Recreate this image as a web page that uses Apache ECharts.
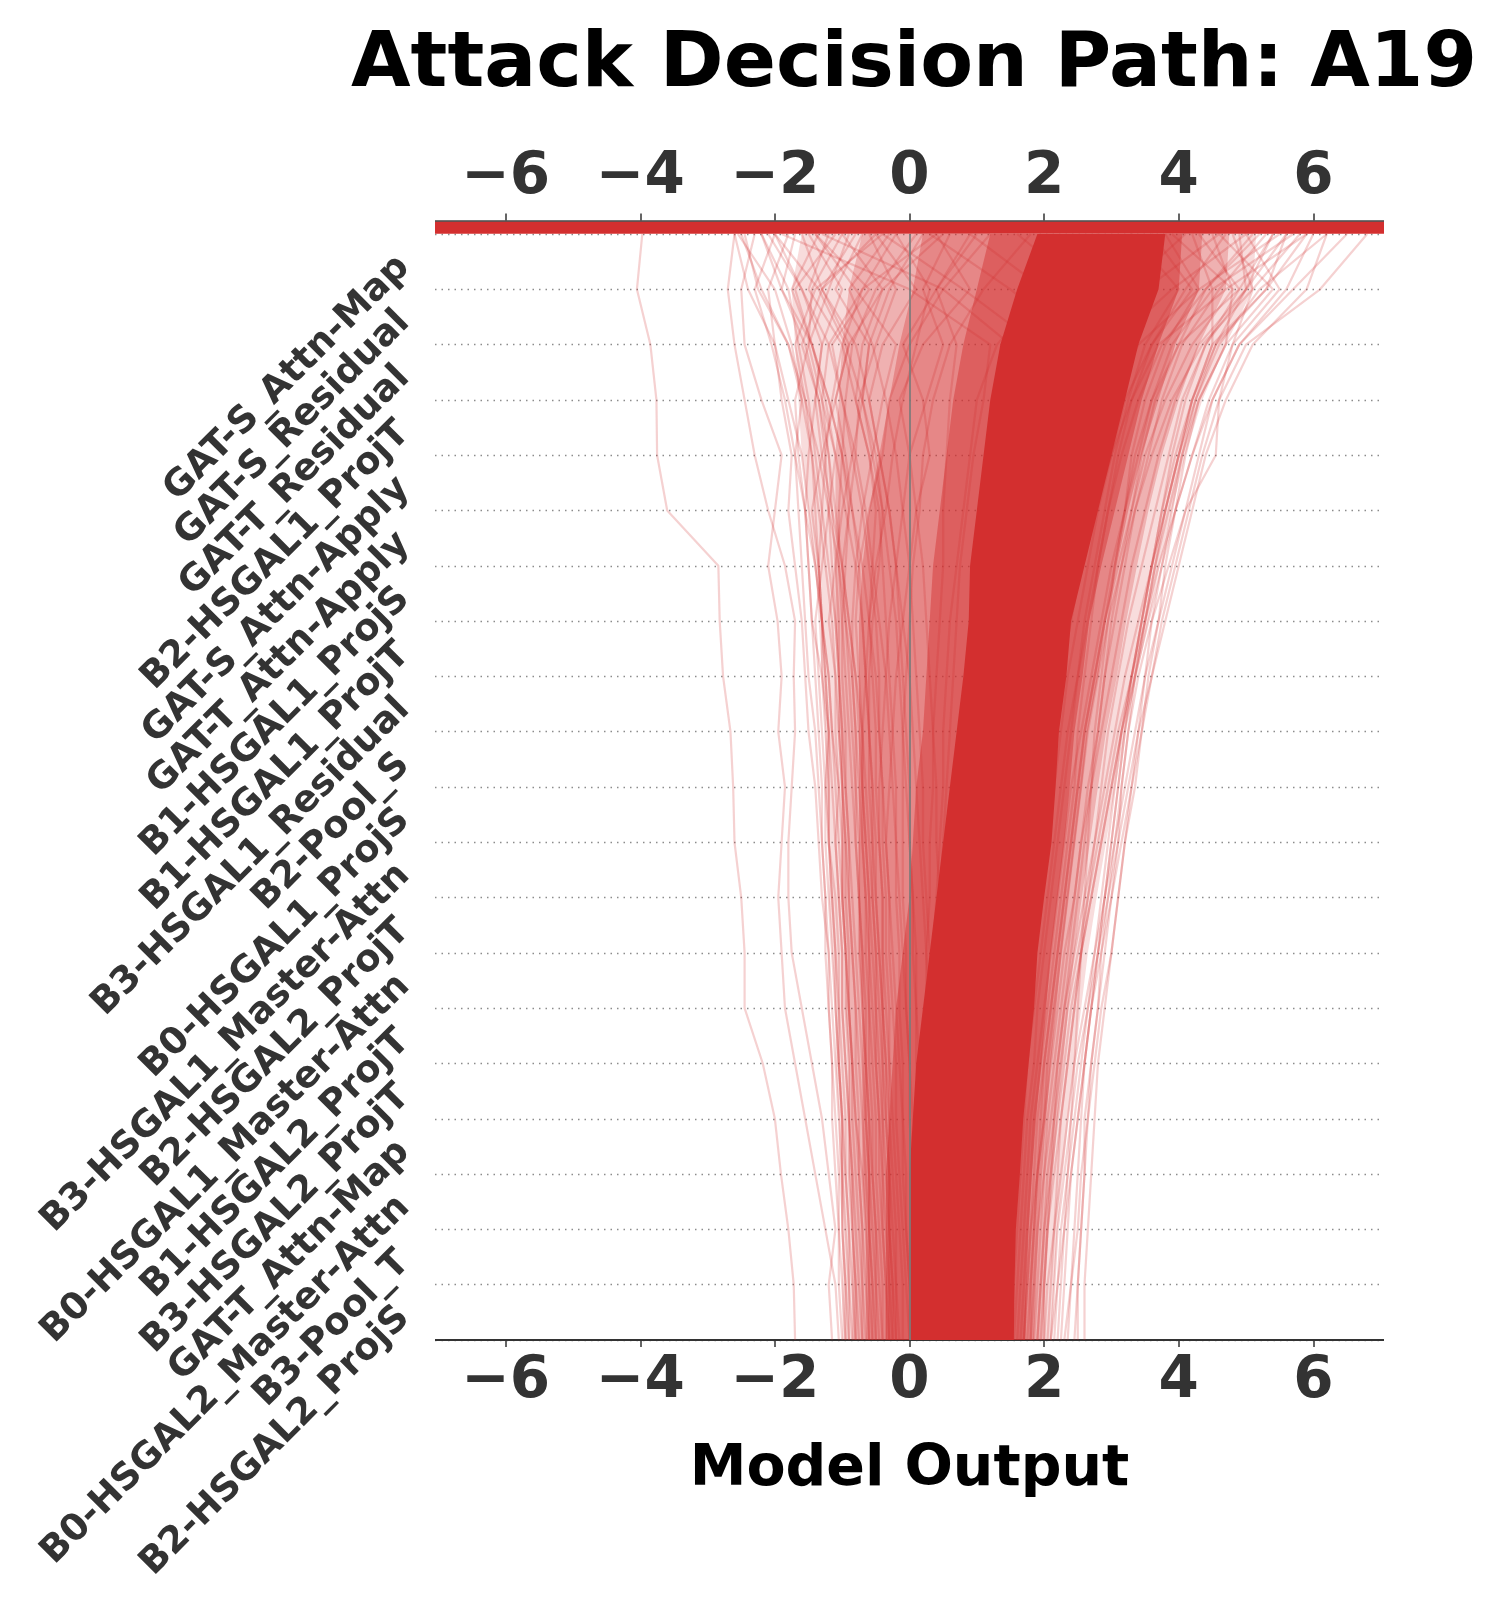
<!DOCTYPE html>
<html>
<head>
<meta charset="utf-8">
<script src="https://cdn.jsdelivr.net/npm/echarts@6/dist/echarts.min.js"></script>
<style>
html,body{margin:0;padding:0;background:#fff;}
#chart{width:1486px;height:1609px;}
</style>
</head>
<body>
<div id="chart"></div>
<script>
// ---------------- data ----------------
const chartTitle = 'Attack Decision Path: A19';
const xAxisName = 'Model Output';
const xTicks = [-6, -4, -2, 0, 2, 4, 6];
const xRange = [-7.05, 7.05];

// features, top (most important) to bottom
const features = [
  'GAT-S_Attn-Map', 'GAT-S_Residual', 'GAT-T_Residual', 'B2-HSGAL1_ProjT',
  'GAT-S_Attn-Apply', 'GAT-T_Attn-Apply', 'B1-HSGAL1_ProjS', 'B1-HSGAL1_ProjT',
  'B3-HSGAL1_Residual', 'B2-Pool_S', 'B0-HSGAL1_ProjS', 'B3-HSGAL1_Master-Attn',
  'B2-HSGAL2_ProjT', 'B0-HSGAL1_Master-Attn', 'B1-HSGAL2_ProjT', 'B3-HSGAL2_ProjT',
  'GAT-T_Attn-Map', 'B0-HSGAL2_Master-Attn', 'B3-Pool_T', 'B2-HSGAL2_ProjS'
];

// density contours of the path bundle (outer -> inner), index k = 0 (bottom) ... 20 (top)
const band1Lo = [-1.0,-1.0,-1.0,-1.05,-1.05,-1.1,-1.1,-1.15,-1.2,-1.2,-1.25,-1.25,-1.3,-1.35,-1.4,-1.5,-1.6,-1.65,-1.7,-1.75,-1.6];
const band1Hi = [2.1,2.15,2.2,2.28,2.36,2.45,2.55,2.65,2.78,2.92,3.06,3.2,3.38,3.55,3.72,3.9,4.1,4.35,4.7,5.1,5.15];
const band2Lo = [-0.85,-0.85,-0.85,-0.9,-0.9,-0.9,-0.95,-0.95,-1.0,-1.0,-1.0,-1.05,-1.05,-1.1,-1.1,-1.1,-1.1,-1.05,-1.0,-0.9,-0.7];
const band2Hi = [1.98,2.02,2.07,2.13,2.2,2.28,2.36,2.45,2.56,2.68,2.8,2.92,3.08,3.22,3.38,3.55,3.75,4.0,4.3,4.7,4.75];
const band3Lo = [-0.65,-0.65,-0.65,-0.7,-0.7,-0.7,-0.7,-0.75,-0.75,-0.75,-0.75,-0.75,-0.75,-0.75,-0.7,-0.6,-0.45,-0.3,-0.15,0.05,0.2];
const band3Hi = [1.85,1.88,1.92,1.97,2.03,2.1,2.18,2.26,2.36,2.46,2.56,2.65,2.8,2.92,3.08,3.25,3.45,3.7,3.95,4.3,4.35];
const band4Lo = [-0.35,-0.35,-0.35,-0.35,-0.3,-0.25,-0.2,-0.1,0.0,0.05,0.1,0.2,0.25,0.3,0.35,0.45,0.55,0.65,0.8,1.0,1.2];
const band4Hi = [1.72,1.74,1.77,1.82,1.88,1.96,2.03,2.1,2.2,2.3,2.38,2.45,2.57,2.67,2.85,3.05,3.25,3.45,3.7,4.0,4.05];
const coreLo  = [0.0,0.0,0.0,0.0,0.05,0.1,0.2,0.3,0.4,0.5,0.6,0.7,0.8,0.88,0.9,1.0,1.1,1.2,1.35,1.6,1.9];
const coreHi  = [1.55,1.56,1.58,1.64,1.69,1.77,1.85,1.9,2.0,2.11,2.17,2.22,2.33,2.4,2.6,2.8,3.0,3.2,3.4,3.7,3.8];

// individual visible decision paths, k = 0 (bottom) ... 20 (top)
const decisionPaths = [
  [-1.70,-1.72,-1.80,-1.91,-2.00,-2.18,-2.45,-2.45,-2.50,-2.60,-2.62,-2.66,-2.77,-2.82,-2.84,-3.60,-3.75,-3.76,-3.85,-4.05,-3.97],
  [-1.15,-1.2,-1.1,-1.2,-1.3,-1.45,-1.6,-1.75,-1.8,-1.8,-1.75,-1.7,-1.72,-1.7,-1.85,-2.1,-2.3,-2.45,-2.6,-2.7,-2.6],
  [-1.05,-1.1,-1.25,-1.4,-1.55,-1.7,-1.85,-1.9,-1.95,-1.9,-1.85,-1.95,-1.9,-1.96,-2.1,-2.0,-1.9,-2.2,-2.45,-2.5,-2.3],
  [-0.9,-0.95,-1.0,-1.0,-1.05,-1.1,-1.15,-1.2,-1.3,-1.35,-1.4,-1.5,-1.55,-1.6,-1.7,-1.8,-1.75,-1.9,-2.0,-2.1,-1.8],
  [-0.8,-0.85,-0.9,-0.95,-0.95,-1.0,-1.05,-1.05,-1.1,-1.2,-1.25,-1.2,-1.3,-1.45,-1.5,-1.55,-1.65,-1.7,-1.5,-1.2,-0.9],
  [-0.7,-0.75,-0.8,-0.85,-0.9,-0.95,-1.0,-1.0,-1.05,-1.1,-1.05,-1.15,-1.2,-1.3,-1.35,-1.45,-1.3,-1.1,-0.9,-1.3,-1.6],
  [-0.6,-0.6,-0.65,-0.7,-0.8,-0.85,-0.9,-0.95,-1.0,-1.0,-1.05,-1.1,-1.1,-1.2,-1.1,-1.0,-0.85,-0.7,-0.6,-0.3,0.2],
  [-0.5,-0.55,-0.6,-0.6,-0.65,-0.7,-0.75,-0.8,-0.85,-0.9,-0.95,-1.0,-1.05,-1.1,-1.2,-1.3,-1.4,-1.5,-1.65,-1.8,-2.2],
  [-0.4,-0.45,-0.5,-0.55,-0.6,-0.65,-0.65,-0.7,-0.75,-0.8,-0.8,-0.85,-0.9,-0.95,-1.0,-0.9,-0.8,-0.75,-0.5,-0.2,-0.6],
  [-0.3,-0.35,-0.4,-0.4,-0.45,-0.5,-0.55,-0.6,-0.6,-0.65,-0.7,-0.7,-0.75,-0.8,-0.75,-0.6,-0.4,-0.3,0.0,0.5,1.2],
  [-0.2,-0.25,-0.3,-0.35,-0.4,-0.4,-0.45,-0.5,-0.55,-0.6,-0.65,-0.7,-0.8,-0.9,-1.0,-1.15,-1.3,-1.4,-1.3,-1.0,-1.5],
  [-0.1,-0.1,-0.15,-0.2,-0.25,-0.3,-0.35,-0.4,-0.4,-0.45,-0.5,-0.5,-0.55,-0.6,-0.55,-0.5,-0.6,-0.8,-1.0,-1.5,-1.2],
  [0.0,-0.05,-0.1,-0.15,-0.2,-0.2,-0.25,-0.3,-0.3,-0.35,-0.3,-0.25,-0.2,-0.1,0.0,0.1,0.3,0.2,-0.1,0.4,0.9],
  [-0.95,-1.0,-1.05,-1.05,-1.1,-1.15,-1.2,-1.25,-1.25,-1.3,-1.35,-1.4,-1.5,-1.55,-1.6,-1.65,-1.7,-1.6,-1.75,-2.0,-2.55],
  [-0.85,-0.9,-0.9,-0.95,-1.0,-1.05,-1.1,-1.15,-1.2,-1.25,-1.25,-1.3,-1.35,-1.4,-1.3,-1.2,-1.1,-1.3,-1.5,-1.45,-1.0],
  [-0.65,-0.7,-0.7,-0.75,-0.75,-0.8,-0.8,-0.85,-0.9,-0.9,-0.95,-0.95,-1.0,-1.0,-0.95,-0.9,-1.0,-1.2,-1.45,-1.9,-2.2],
  [-0.55,-0.55,-0.6,-0.6,-0.65,-0.65,-0.7,-0.7,-0.75,-0.75,-0.8,-0.8,-0.85,-0.85,-0.8,-0.7,-0.55,-0.4,-0.2,-0.8,-1.4],
  [-0.45,-0.5,-0.5,-0.55,-0.55,-0.6,-0.6,-0.65,-0.65,-0.7,-0.7,-0.7,-0.65,-0.6,-0.5,-0.35,-0.25,-0.1,0.1,0.3,-0.2],
  [-0.35,-0.35,-0.4,-0.45,-0.45,-0.5,-0.5,-0.5,-0.55,-0.55,-0.6,-0.6,-0.6,-0.55,-0.45,-0.4,-0.5,-0.7,-0.6,-1.1,-0.7],
  [-0.25,-0.3,-0.3,-0.3,-0.35,-0.35,-0.4,-0.4,-0.4,-0.45,-0.45,-0.4,-0.35,-0.3,-0.2,-0.1,0.0,0.25,0.5,0.2,0.6],
  [0.1,0.1,0.1,0.15,0.2,0.25,0.3,0.35,0.4,0.45,0.5,0.5,0.55,0.6,0.7,0.8,0.9,1.0,1.3,2.0,2.8],
  [0.3,0.3,0.35,0.4,0.45,0.5,0.55,0.6,0.65,0.7,0.75,0.8,0.9,1.0,1.1,1.2,1.35,1.5,1.8,2.6,3.3],
  [0.5,0.5,0.55,0.6,0.65,0.7,0.8,0.85,0.9,1.0,1.05,1.1,1.2,1.3,1.45,1.6,1.8,2.0,2.4,3.2,4.1],
  [0.7,0.75,0.8,0.85,0.9,0.95,1.0,1.1,1.15,1.25,1.3,1.4,1.5,1.6,1.75,1.9,2.1,2.3,2.7,3.5,4.6],
  [0.9,0.9,0.95,1.0,1.05,1.1,1.2,1.25,1.35,1.45,1.5,1.6,1.7,1.85,2.0,2.15,2.35,2.6,3.0,3.9,5.0],
  [1.1,1.15,1.2,1.25,1.3,1.35,1.45,1.5,1.6,1.7,1.8,1.9,2.0,2.15,2.3,2.5,2.7,3.0,3.4,4.3,5.5],
  [1.3,1.35,1.4,1.45,1.5,1.55,1.65,1.7,1.8,1.9,2.0,2.1,2.25,2.4,2.55,2.75,3.0,3.3,3.7,4.7,5.9],
  [1.6,1.65,1.7,1.75,1.8,1.9,2.0,2.1,2.2,2.3,2.4,2.55,2.7,2.85,3.0,3.2,3.4,3.6,3.9,4.5,4.2],
  [1.7,1.75,1.8,1.9,2.0,2.1,2.2,2.3,2.45,2.55,2.7,2.85,3.0,3.15,3.3,3.5,3.7,3.95,4.3,5.0,5.6],
  [1.8,1.85,1.9,2.0,2.1,2.2,2.3,2.45,2.6,2.75,2.9,3.05,3.2,3.4,3.6,3.8,4.0,4.25,4.6,5.2,6.2],
  [1.9,1.95,2.0,2.1,2.2,2.3,2.4,2.55,2.7,2.85,3.0,3.15,3.35,3.55,3.75,3.95,4.2,4.45,4.8,5.5,5.0],
  [2.0,2.05,2.15,2.25,2.35,2.45,2.6,2.75,2.9,3.05,3.2,3.35,3.5,3.7,3.9,4.1,4.3,4.5,4.9,5.7,6.5],
  [2.1,2.2,2.3,2.4,2.5,2.6,2.7,2.85,3.0,3.15,3.3,3.45,3.6,3.75,3.95,4.15,4.35,4.6,5.0,6.1,6.8],
  [2.3,2.4,2.5,2.55,2.65,2.75,2.85,3.0,3.1,3.2,3.35,3.45,3.55,3.7,3.8,3.95,4.1,4.3,4.7,5.4,4.6],
  [2.45,2.5,2.55,2.6,2.6,2.7,2.8,2.9,3.0,3.1,3.15,3.25,3.4,3.6,3.85,4.1,4.55,4.6,4.8,5.1,5.8],
  [1.5,1.55,1.6,1.65,1.7,1.75,1.85,1.95,2.05,2.15,2.25,2.35,2.5,2.6,2.75,2.9,3.05,3.25,3.5,4.0,3.3],
  [1.4,1.45,1.5,1.55,1.6,1.7,1.75,1.85,1.95,2.05,2.15,2.25,2.35,2.5,2.65,2.8,3.0,3.2,3.6,4.2,3.6],
  [1.75,1.8,1.85,1.9,1.95,2.0,2.1,2.2,2.3,2.4,2.5,2.6,2.75,2.9,3.1,3.3,3.5,3.8,4.2,4.8,3.9],
  [1.85,1.9,1.95,2.0,2.05,2.15,2.25,2.35,2.45,2.55,2.65,2.8,2.9,3.05,3.2,3.35,3.55,3.75,4.05,4.6,5.3],
  [1.95,2.0,2.05,2.15,2.25,2.35,2.45,2.55,2.65,2.75,2.85,2.95,3.1,3.25,3.45,3.65,3.85,4.05,4.4,4.9,4.3],
  [0.8,0.8,0.85,0.9,0.95,1.0,1.05,1.1,1.2,1.25,1.3,1.4,1.5,1.6,1.7,1.85,2.0,2.2,2.5,1.5,0.3],
  [1.0,1.0,1.05,1.1,1.15,1.2,1.3,1.35,1.45,1.5,1.6,1.7,1.8,1.9,2.0,2.1,2.3,2.5,2.8,2.0,0.9],
  [0.6,0.6,0.65,0.7,0.75,0.8,0.85,0.9,0.95,1.0,1.05,1.1,1.2,1.25,1.35,1.45,1.55,1.7,1.9,0.8,-0.4],
  [1.2,1.25,1.3,1.35,1.4,1.45,1.5,1.6,1.7,1.8,1.9,2.0,2.1,2.2,2.35,2.5,2.65,2.85,3.2,2.6,1.6],
  [0.4,0.4,0.45,0.5,0.55,0.6,0.6,0.65,0.7,0.75,0.8,0.85,0.9,0.95,1.0,1.1,1.2,1.3,1.5,0.5,-1.3],
  [0.2,0.2,0.25,0.3,0.3,0.35,0.4,0.45,0.45,0.5,0.55,0.6,0.65,0.7,0.75,0.85,0.95,1.1,1.2,0.0,-1.9],
  [-0.75,-0.8,-0.85,-0.85,-0.9,-0.9,-0.95,-0.95,-1.0,-1.0,-1.0,-1.05,-1.05,-1.1,-1.15,-1.2,-1.25,-1.35,-1.6,-1.3,-0.5],
  [-0.15,-0.2,-0.2,-0.25,-0.3,-0.3,-0.3,-0.35,-0.35,-0.4,-0.4,-0.45,-0.45,-0.5,-0.6,-0.7,-0.85,-1.0,-1.2,-0.7,0.4],
  [0.05,0.0,-0.05,-0.05,-0.1,-0.1,-0.15,-0.15,-0.2,-0.2,-0.2,-0.25,-0.3,-0.35,-0.4,-0.45,-0.6,-0.8,-0.7,-0.4,-1.0],
  [-1.0,-1.05,-1.05,-1.1,-1.15,-1.15,-1.2,-1.2,-1.25,-1.3,-1.3,-1.35,-1.4,-1.45,-1.5,-1.55,-1.5,-1.4,-1.3,-1.6,-2.0],
  [-0.95,-0.95,-1.0,-1.0,-1.0,-1.05,-1.05,-1.1,-1.15,-1.2,-1.2,-1.2,-1.25,-1.3,-1.35,-1.4,-1.45,-1.6,-1.8,-2.25,-2.45],
  [0.15,0.1,0.1,0.05,0.0,0.0,-0.05,-0.05,-0.1,-0.1,-0.1,-0.1,-0.05,0.0,0.05,0.15,0.2,0.35,0.6,1.1,1.8],
  [2.2,2.25,2.3,2.35,2.4,2.45,2.5,2.55,2.6,2.65,2.7,2.75,2.85,2.95,3.05,3.2,3.3,3.5,3.8,4.3,3.8],
  [2.35,2.4,2.45,2.5,2.55,2.6,2.7,2.8,2.9,3.0,3.1,3.2,3.3,3.45,3.6,3.75,3.9,4.1,4.4,5.0,5.4],
  [1.65,1.7,1.75,1.8,1.85,1.95,2.05,2.15,2.25,2.35,2.45,2.5,2.6,2.7,2.8,2.95,3.1,3.3,3.6,4.1,4.7],
  [2.0,2.0,2.05,2.1,2.15,2.2,2.3,2.4,2.5,2.6,2.7,2.8,2.9,3.0,3.15,3.3,3.45,3.65,4.0,4.4,5.1],
  [2.1,2.15,2.2,2.3,2.4,2.5,2.65,2.8,2.95,3.1,3.25,3.4,3.6,3.8,4.0,4.2,4.4,4.7,5.1,5.9,6.2],
  [1.9,1.95,2.0,2.05,2.15,2.25,2.35,2.5,2.65,2.8,2.95,3.1,3.3,3.5,3.7,3.95,4.2,4.5,4.9,5.6,6.0],
  [-0.6,-0.65,-0.7,-0.75,-0.8,-0.85,-0.9,-0.95,-1.0,-1.05,-1.1,-1.15,-1.2,-1.3,-1.4,-1.5,-1.6,-1.8,-2.0,-2.4,-2.6],
  [-0.3,-0.3,-0.35,-0.4,-0.4,-0.45,-0.5,-0.55,-0.6,-0.65,-0.7,-0.75,-0.8,-0.9,-1.0,-1.1,-1.2,-1.35,-1.55,-1.9,-1.7],
  [-0.9,-0.9,-0.95,-1.0,-1.0,-1.05,-1.1,-1.1,-1.15,-1.2,-1.2,-1.25,-1.3,-1.3,-1.35,-1.3,-1.25,-1.15,-1.0,-0.7,-0.2],
  [-0.7,-0.7,-0.75,-0.8,-0.85,-0.85,-0.9,-0.9,-0.95,-0.95,-1.0,-1.0,-1.05,-1.05,-1.1,-1.15,-1.2,-1.3,-1.2,-1.6,-2.1],
  [-0.2,-0.2,-0.25,-0.3,-0.3,-0.35,-0.4,-0.45,-0.5,-0.55,-0.55,-0.6,-0.65,-0.7,-0.8,-0.95,-1.1,-1.25,-1.45,-1.75,-1.35],
  [0.25,0.2,0.2,0.15,0.15,0.1,0.1,0.05,0.05,0.0,0.0,-0.05,-0.1,-0.15,-0.2,-0.3,-0.45,-0.6,-0.8,-1.3,-0.8],
  [0.45,0.45,0.4,0.4,0.35,0.35,0.3,0.3,0.25,0.2,0.2,0.15,0.1,0.05,0.0,-0.1,-0.2,-0.35,-0.55,-0.9,-0.3],
  [0.35,0.35,0.35,0.3,0.3,0.3,0.25,0.25,0.3,0.3,0.35,0.35,0.4,0.45,0.5,0.5,0.55,0.6,0.7,0.4,1.0],
  [-0.5,-0.5,-0.55,-0.6,-0.6,-0.65,-0.7,-0.75,-0.75,-0.8,-0.85,-0.9,-0.95,-1.0,-1.05,-1.05,-1.0,-0.95,-0.85,-0.5,0.1],
  [2.5,2.5,2.55,2.6,2.65,2.7,2.8,2.85,2.95,3.05,3.15,3.25,3.35,3.5,3.65,3.8,4.0,4.2,4.5,5.3,5.6],
  [2.25,2.3,2.35,2.4,2.5,2.6,2.7,2.8,2.9,3.0,3.1,3.2,3.35,3.5,3.65,3.85,4.05,4.3,4.7,4.8,4.5],
  [2.05,2.1,2.15,2.2,2.25,2.35,2.45,2.55,2.7,2.85,3.0,3.15,3.3,3.45,3.6,3.75,3.95,4.2,4.55,5.3,5.9],
  [1.55,1.6,1.65,1.7,1.75,1.85,1.9,2.0,2.1,2.2,2.3,2.4,2.5,2.65,2.8,2.95,3.15,3.4,3.75,4.4,5.2],
  [1.8,1.8,1.85,1.9,2.0,2.05,2.15,2.25,2.35,2.45,2.55,2.65,2.8,2.95,3.15,3.35,3.6,3.9,4.35,5.1,4.8],
  [-0.8,-0.8,-0.85,-0.9,-0.9,-0.95,-1.0,-1.0,-1.05,-1.1,-1.15,-1.2,-1.25,-1.3,-1.4,-1.55,-1.7,-1.85,-2.05,-2.3,-2.0],
  [-0.4,-0.4,-0.45,-0.5,-0.5,-0.55,-0.6,-0.6,-0.65,-0.7,-0.75,-0.8,-0.85,-0.95,-1.05,-1.2,-1.35,-1.55,-1.8,-2.2,-2.5],
  [0.0,0.0,-0.05,-0.1,-0.1,-0.15,-0.2,-0.25,-0.3,-0.35,-0.4,-0.45,-0.5,-0.6,-0.7,-0.85,-1.0,-1.2,-1.45,-1.7,-1.1],
  [0.2,0.15,0.1,0.1,0.05,0.0,-0.05,-0.1,-0.15,-0.2,-0.25,-0.3,-0.35,-0.45,-0.55,-0.65,-0.8,-1.0,-1.15,-0.6,-1.4],
  [0.5,0.45,0.45,0.4,0.4,0.35,0.3,0.25,0.2,0.15,0.1,0.05,0.0,-0.1,-0.2,-0.3,-0.45,-0.6,-0.4,0.1,-0.5],
  [0.65,0.6,0.6,0.55,0.55,0.5,0.5,0.45,0.45,0.4,0.4,0.35,0.3,0.25,0.2,0.1,0.0,-0.15,0.2,0.9,0.4],
  [-0.55,-0.6,-0.6,-0.65,-0.7,-0.75,-0.8,-0.85,-0.9,-0.95,-1.0,-1.05,-1.1,-1.15,-1.25,-1.35,-1.45,-1.55,-1.7,-1.4,-0.4],
  [-0.25,-0.25,-0.3,-0.3,-0.35,-0.4,-0.4,-0.45,-0.5,-0.5,-0.55,-0.6,-0.65,-0.7,-0.75,-0.85,-0.95,-1.1,-0.9,-0.4,0.5],
  [0.3,0.25,0.25,0.2,0.2,0.15,0.1,0.1,0.05,0.0,-0.05,-0.1,-0.15,-0.2,-0.3,-0.4,-0.55,-0.7,-0.95,-1.35,-2.0],
  [2.6,2.6,2.65,2.7,2.75,2.8,2.9,3.0,3.1,3.2,3.3,3.4,3.5,3.6,3.75,3.9,4.05,4.25,4.55,5.0,4.9],
  [2.15,2.2,2.25,2.35,2.45,2.55,2.65,2.75,2.85,2.95,3.05,3.15,3.3,3.45,3.6,3.8,4.0,4.2,4.5,4.5,5.7],
  [1.7,1.75,1.8,1.85,1.9,2.0,2.1,2.2,2.3,2.4,2.5,2.6,2.75,2.9,3.05,3.2,3.35,3.6,4.0,4.9,5.4]
];

// ---------------- chart ----------------
const RED = '#d32f2f';
const FONT = 'DejaVu Sans';
const nRows = features.length;
const chart = echarts.init(document.getElementById('chart'), null, {renderer: 'canvas'});
const minus = v => String(v).replace('-', '\u2212');

function band(lo, hi, opacity, z) {
  return {
    type: 'custom', coordinateSystem: 'cartesian2d', xAxisIndex: 0, yAxisIndex: 0,
    silent: true, z: z, animation: false,
    data: lo.map((v, k) => [v, hi[k], k]),
    encode: {x: [0, 1], y: 2},
    renderItem: function (params, api) {
      if (params.dataIndex !== 0) return null;
      const pts = [];
      for (let k = 0; k < lo.length; k++) pts.push(api.coord([lo[k], k]));
      for (let k = hi.length - 1; k >= 0; k--) pts.push(api.coord([hi[k], k]));
      return {type: 'polygon', shape: {points: pts}, style: {fill: RED, opacity: opacity}};
    }
  };
}

const series = [
  band(band1Lo, band1Hi, 0.17, 1),
  band(band2Lo, band2Hi, 0.25, 1),
  band(band3Lo, band3Hi, 0.32, 1),
  band(band4Lo, band4Hi, 0.45, 1)
];
decisionPaths.forEach(p => {
  series.push({
    type: 'line', xAxisIndex: 0, yAxisIndex: 0, silent: true, z: 2, animation: false,
    showSymbol: false, symbol: 'none',
    data: p.map((v, k) => [v, k]),
    lineStyle: {color: RED, width: 2.2, opacity: 0.22}
  });
});
series.push(band(coreLo, coreHi, 1, 3));
series.push({
  type: 'line', xAxisIndex: 0, yAxisIndex: 0, data: [], z: 5, silent: true, animation: false,
  markLine: {
    silent: true, symbol: 'none', animation: false, label: {show: false},
    lineStyle: {color: '#7a7a7a', width: 2, type: 'solid', opacity: 0.85},
    data: [{xAxis: 0}]
  }
});

const tickLabel = {
  customValues: xTicks, formatter: minus,
  fontFamily: FONT, fontWeight: 'bold', fontSize: 58, color: '#333'
};

chart.setOption({
  backgroundColor: '#fff',
  animation: false,
  title: {
    text: chartTitle, left: 909, top: 22, textAlign: 'center',
    textStyle: {fontFamily: FONT, fontWeight: 'bold', fontSize: 77, color: '#000'}
  },
  grid: {left: 435, right: 102, top: 234, bottom: 269, containLabel: false, outerBoundsMode: 'none'},
  xAxis: [
    {
      type: 'value', position: 'bottom', min: xRange[0], max: xRange[1],
      axisLine: {show: true, onZero: false, lineStyle: {color: '#333', width: 2, cap: 'butt'}},
      axisTick: {show: true, customValues: xTicks, length: 7, lineStyle: {color: '#333', width: 1.5}},
      axisLabel: Object.assign({margin: 13}, tickLabel),
      splitLine: {show: false},
      name: xAxisName, nameLocation: 'middle', nameGap: 102,
      nameTextStyle: {fontFamily: FONT, fontWeight: 'bold', fontSize: 57, color: '#000'}
    },
    {
      type: 'value', position: 'top', min: xRange[0], max: xRange[1], offset: 6.3,
      axisLine: {show: true, onZero: false, lineStyle: {color: RED, width: 12.6, cap: 'butt'}},
      axisTick: {show: false}, axisLabel: {show: false}, splitLine: {show: false}
    },
    {
      type: 'value', position: 'top', min: xRange[0], max: xRange[1], offset: 13.5,
      axisLine: {show: true, onZero: false, lineStyle: {color: '#444', width: 1.5, cap: 'butt'}},
      axisTick: {show: true, customValues: xTicks, length: 7, lineStyle: {color: '#333', width: 1.5}},
      axisLabel: Object.assign({margin: 14}, tickLabel),
      splitLine: {show: false}
    }
  ],
  yAxis: [
    {
      type: 'value', min: 0, max: nRows, interval: 1,
      axisLine: {show: false}, axisTick: {show: false}, axisLabel: {show: false},
      splitLine: {show: true, lineStyle: {color: '#8c8c8c', width: 1.3, type: [1.5, 5]}}
    },
    {
      type: 'category', data: features, inverse: true, position: 'left',
      axisLine: {show: false}, axisTick: {show: false}, splitLine: {show: false},
      axisLabel: {
        interval: 0, rotate: 45, margin: 31, padding: [10, 0, 0, 0],
        fontFamily: FONT, fontWeight: 'bold', fontSize: 37, color: '#333'
      }
    }
  ],
  series: series
});
</script>
</body>
</html>
